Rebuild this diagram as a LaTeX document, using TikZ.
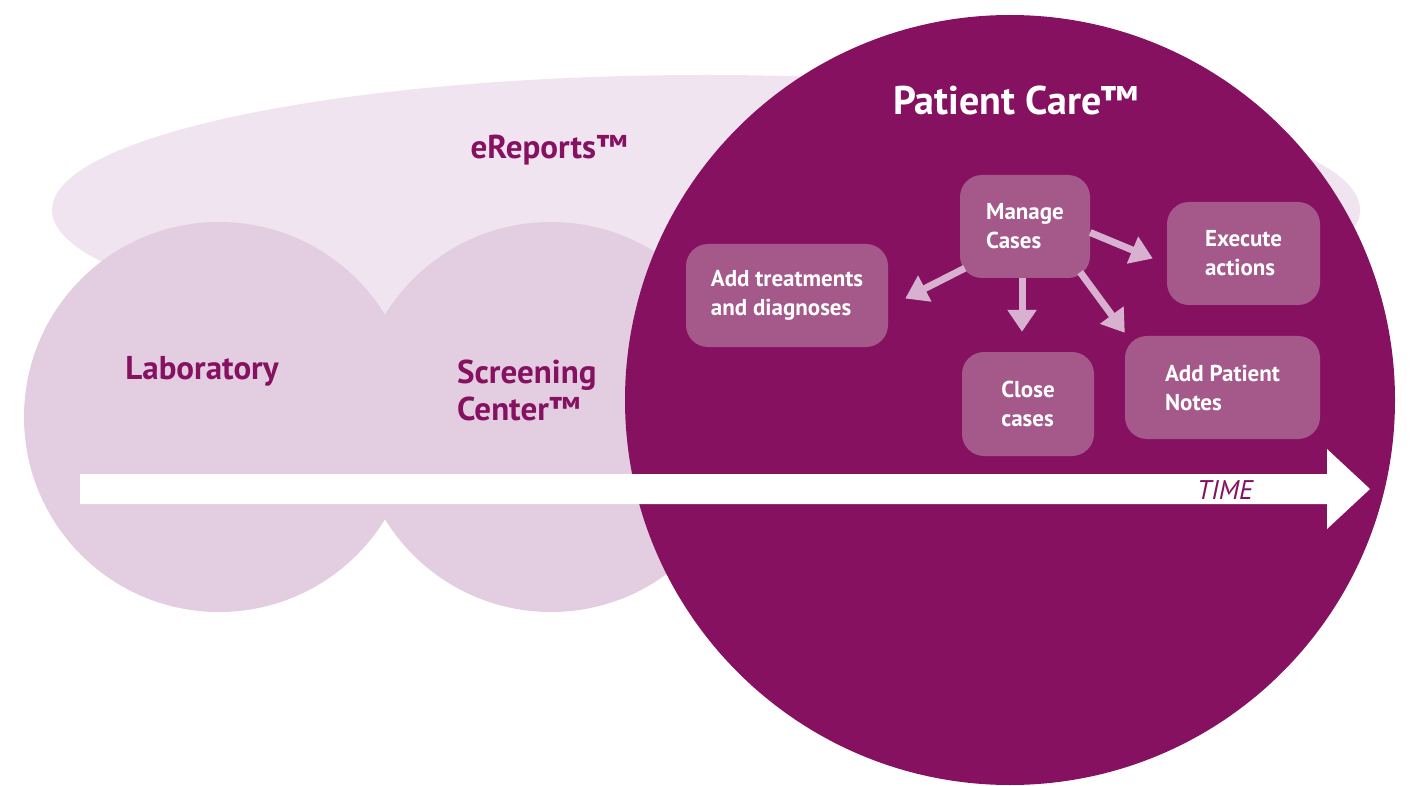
\documentclass[tikz,border=0pt]{standalone}
\usepackage{fontspec}
\setmainfont{PT Sans}
\usetikzlibrary{arrows.meta,calc}
\definecolor{pcare}{HTML}{861161}
\definecolor{ellcol}{HTML}{EFE4EF}
\definecolor{circcol}{HTML}{E2CEE0}
\definecolor{boxcol}{HTML}{A4598A}
\definecolor{arrcol}{HTML}{D8B1D0}
\tikzset{
  stepbox/.style={fill=boxcol, rounded corners=22pt, align=left, text=white,
    font=\bfseries\fontsize{23}{29}\selectfont, inner sep=0pt},
  flowarr/.style={draw=arrcol, line width=7pt, -{Triangle[length=22pt,width=28pt]}},
  biglabel/.style={text=pcare, font=\bfseries\fontsize{33}{37}\selectfont, align=left, inner sep=0pt}
}
\begin{document}
\begin{tikzpicture}[x=1pt,y=-1pt]
\useasboundingbox (0,0) rectangle (1411,786);
\clip (0,0) rectangle (1411,786);
% background shapes
\fill[ellcol] (706,210) ellipse [x radius=654, y radius=135];
\fill[circcol] (219,417) circle [radius=195];
\fill[circcol] (551,417) circle [radius=195];
\fill[pcare] (1010,400) circle [radius=385];
% labels
\node[biglabel] (ereports) at (549,150) {eReports™};
\node[biglabel] (lab) at (202,371) {Laboratory};
\node[biglabel, anchor=west] (screen) at (457,390) {Screening\\Center™};
\node[text=white, font=\bfseries\fontsize{40}{44}\selectfont, inner sep=0pt] (pc) at (1016,101) {Patient Care™};
% time arrow
\fill[white] (80,474) -- (1327,474) -- (1327,449) -- (1370,489) -- (1327,529) -- (1327,504) -- (80,504) -- cycle;
\node[text=pcare, font=\itshape\fontsize{27}{30}\selectfont, inner sep=0pt] (time) at (1225,490) {TIME};
% boxes
\node[stepbox, minimum width=130pt, minimum height=103pt] (manage) at (1025,226.5) {Manage\\Cases};
\node[stepbox, minimum width=153pt, minimum height=103pt] (exec) at (1243.5,253.5) {Execute\\actions};
\node[stepbox, minimum width=202pt, minimum height=103pt] (treat) at (787,295.5) {Add treatments\\and diagnoses};
\node[stepbox, minimum width=132pt, minimum height=104pt] (close) at (1028,404) {Close\\cases};
\node[stepbox, minimum width=195pt, minimum height=103pt] (notes) at (1222.5,387.5) {Add Patient\\Notes};
% connectors
\draw[flowarr] ([xshift=5pt,yshift=10pt]manage.south west) -- ([xshift=17pt,yshift=-3pt]treat.east);
\draw[flowarr] ([xshift=-3pt]manage.south) -- ([xshift=-3pt,yshift=20pt]manage.south |- close.north);
\draw[flowarr] ([xshift=-10pt,yshift=6pt]manage.south east) -- ([yshift=3pt]notes.north west);
\draw[flowarr] ([yshift=-6pt]manage.east) -- ([xshift=-14pt,yshift=-5pt]exec.west);
\end{tikzpicture}
\end{document}
